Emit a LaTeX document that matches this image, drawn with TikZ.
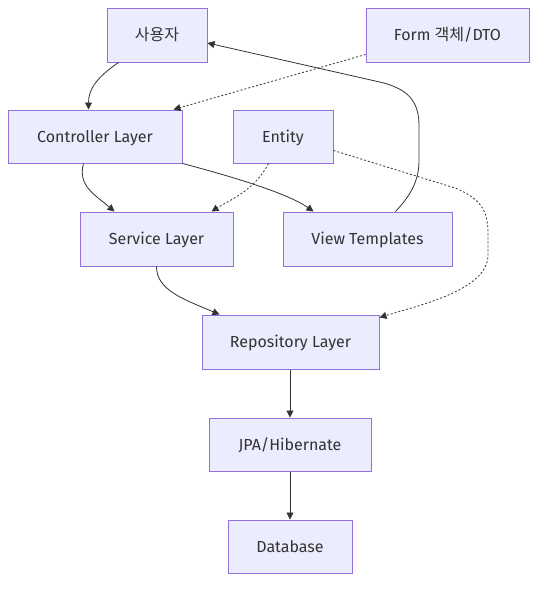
\documentclass[tikz,border=0pt]{standalone}
\usepackage{fontspec}
\setmainfont{Fira Sans}
\newfontfamily\cjk{Noto Sans CJK KR}
\usetikzlibrary{arrows.meta}
\definecolor{boxfill}{HTML}{ECECFF}
\definecolor{boxdraw}{HTML}{9370DB}
\definecolor{ink}{HTML}{333333}
\tikzset{
  box/.style={draw=boxdraw, fill=boxfill, line width=1pt, inner sep=0pt,
    minimum height=54pt, text height=12pt, text depth=1pt,
    text=ink, font=\fontsize{16}{19}\selectfont},
  edge/.style={draw=ink, line width=0.8pt, -{Triangle[length=7pt,width=7pt]}},
  dotedge/.style={edge, dash pattern=on 2pt off 2pt},
}
\begin{document}
\begin{tikzpicture}[x=1pt,y=-1pt]
\useasboundingbox (0,0) rectangle (545,590);
\node[box, minimum width=100pt] (user) at (157,35) {\cjk 사용자};
\node[box, minimum width=163pt] (form) at (447.5,35) {Form {\cjk 객체}/DTO};
\node[box, minimum width=174pt, minimum height=53pt] (ctrl) at (95,136.5) {Controller Layer};
\node[box, minimum width=100pt, minimum height=53pt] (entity) at (283,136.5) {Entity};
\node[box, minimum width=153pt] (service) at (156.5,239) {Service Layer};
\node[box, minimum width=169pt] (view) at (367.5,239) {View Templates};
\node[box, minimum width=177pt] (repo) at (290.5,342) {Repository Layer};
\node[box, minimum width=162pt, minimum height=53pt] (jpa) at (290,444.5) {JPA/Hibernate};
\node[box, minimum width=124pt, minimum height=53pt] (db) at (290,546.5) {Database};

% user -> controller
\draw[edge] ([xshift=12pt]user.south west) .. controls +(-22,15) and +(0,-20) .. ([xshift=81pt]ctrl.north west);
% form -> controller (dotted)
\draw[dotedge] ([yshift=8pt]form.south west) -- ([xshift=-9pt]ctrl.north east);
% view -> user
\draw[edge] ([xshift=113pt]view.north west) .. controls +(16,-17) and (419,180) .. (419,160) -- (419,125)
  .. controls (419,95) and (400,88) .. (384,83) -- ([yshift=-8pt]user.east);
% controller -> service
\draw[edge] ([xshift=76pt]ctrl.south west) .. controls +(-6,22) and +(-20,-17) .. ([xshift=35pt]service.north west);
% controller -> view
\draw[edge] (ctrl.south east) .. controls +(57,15) and +(-24,-17) .. ([xshift=31pt]view.north west);
% entity -> service (dotted)
\draw[dotedge] ([xshift=36pt]entity.south west) .. controls +(-14,27) and +(19,-12) .. ([xshift=-22pt]service.north east);
% entity -> repository (dotted)
\draw[dotedge] ([yshift=13pt]entity.south east) -- (455,188) .. controls (485,200) and (488,215) .. (488,235) -- (488,255)
  .. controls (488,290) and (420,305) .. ([yshift=-3pt]repo.north east);
% service -> repository
\draw[edge] (service.south) .. controls +(0,24) and +(-35,-15) .. ([xshift=18pt]repo.north west);
% repository -> jpa -> database
\draw[edge] (repo.south -| jpa.north) -- (jpa.north);
\draw[edge] (jpa.south) -- (db.north);
\end{tikzpicture}
\end{document}
